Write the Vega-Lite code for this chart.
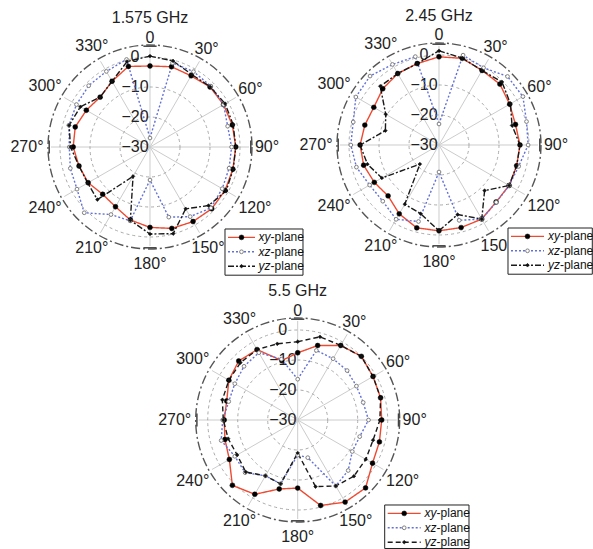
{
"$schema":"https://vega.github.io/schema/vega-lite/v6.json",
"background":"white","padding":0,"autosize":{"type":"none"},
"width":593,"height":549,
"config":{"view":{"stroke":null},"font":"Liberation Sans","text":{"font":"Liberation Sans"}},
"datasets":{
"spokes":[{"a":0},{"a":30},{"a":60},{"a":90},{"a":120},{"a":150},{"a":180},{"a":210},{"a":240},{"a":270},{"a":300},{"a":330}],
"rings":[{"db":-20},{"db":-10},{"db":0}],
"outer":[{"db":4}],
"cards":[{"a":0},{"a":90},{"a":180},{"a":270}],
"rlab":[{"db":0,"t":"0"},{"db":-10,"t":"−10"},{"db":-20,"t":"−20"},{"db":-30,"t":"−30"}],
"alab":[{"a":0,"t":"0"},{"a":30,"t":"30°"},{"a":60,"t":"60°"},{"a":90,"t":"90°"},{"a":120,"t":"120°"},{"a":150,"t":"150°"},{"a":180,"t":"180°"},{"a":210,"t":"210°"},{"a":240,"t":"240°"},{"a":270,"t":"270°"},{"a":300,"t":"300°"},{"a":330,"t":"330°"}],
"titles":[{"f":"1.575","t":"1.575 GHz"},{"f":"2.45","t":"2.45 GHz"},{"f":"5.5","t":"5.5 GHz"}],
"leg":[{"s":"xy","k":0},{"s":"xz","k":1},{"s":"yz","k":2}],
"pat":[
{"f":"1.575","s":"xy","a":0,"db":-3},{"f":"1.575","s":"xy","a":15,"db":-2.3},{"f":"1.575","s":"xy","a":30,"db":-2.6},{"f":"1.575","s":"xy","a":45,"db":-1.7},{"f":"1.575","s":"xy","a":60,"db":-1.7},{"f":"1.575","s":"xy","a":75,"db":-1.6},{"f":"1.575","s":"xy","a":90,"db":-1.4},{"f":"1.575","s":"xy","a":105,"db":-1.4},{"f":"1.575","s":"xy","a":120,"db":-1.1},{"f":"1.575","s":"xy","a":135,"db":-0.9},{"f":"1.575","s":"xy","a":150,"db":-1.3},{"f":"1.575","s":"xy","a":165,"db":-1.9},{"f":"1.575","s":"xy","a":180,"db":-3.2},{"f":"1.575","s":"xy","a":195,"db":-4.8},{"f":"1.575","s":"xy","a":210,"db":-7},{"f":"1.575","s":"xy","a":225,"db":-7.7},{"f":"1.575","s":"xy","a":240,"db":-6.2},{"f":"1.575","s":"xy","a":255,"db":-5.5},{"f":"1.575","s":"xy","a":270,"db":-4.4},{"f":"1.575","s":"xy","a":285,"db":-4.2},{"f":"1.575","s":"xy","a":300,"db":-5.5},{"f":"1.575","s":"xy","a":315,"db":-6.5},{"f":"1.575","s":"xy","a":330,"db":-4.7},{"f":"1.575","s":"xy","a":345,"db":-2.2},
{"f":"1.575","s":"xz","a":0,"db":-27},{"f":"1.575","s":"xz","a":15,"db":-1},{"f":"1.575","s":"xz","a":30,"db":-1},{"f":"1.575","s":"xz","a":45,"db":-1.3},{"f":"1.575","s":"xz","a":60,"db":-1.7},{"f":"1.575","s":"xz","a":75,"db":-3.2},{"f":"1.575","s":"xz","a":90,"db":-2.8},{"f":"1.575","s":"xz","a":105,"db":-2.7},{"f":"1.575","s":"xz","a":120,"db":-2.2},{"f":"1.575","s":"xz","a":135,"db":-1.3},{"f":"1.575","s":"xz","a":150,"db":-3.2},{"f":"1.575","s":"xz","a":165,"db":-5.8},{"f":"1.575","s":"xz","a":180,"db":-19},{"f":"1.575","s":"xz","a":195,"db":-4.5},{"f":"1.575","s":"xz","a":210,"db":-4},{"f":"1.575","s":"xz","a":225,"db":1},{"f":"1.575","s":"xz","a":240,"db":-1.9},{"f":"1.575","s":"xz","a":255,"db":-2.5},{"f":"1.575","s":"xz","a":270,"db":-3.1},{"f":"1.575","s":"xz","a":285,"db":-2},{"f":"1.575","s":"xz","a":300,"db":-1.7},{"f":"1.575","s":"xz","a":315,"db":-1.1},{"f":"1.575","s":"xz","a":330,"db":-0.9},{"f":"1.575","s":"xz","a":345,"db":0.2},
{"f":"1.575","s":"yz","a":0,"db":0.3},{"f":"1.575","s":"yz","a":15,"db":-0.3},{"f":"1.575","s":"yz","a":30,"db":-2.1},{"f":"1.575","s":"yz","a":45,"db":-1.6},{"f":"1.575","s":"yz","a":60,"db":-1.1},{"f":"1.575","s":"yz","a":75,"db":-1.3},{"f":"1.575","s":"yz","a":90,"db":-1.4},{"f":"1.575","s":"yz","a":105,"db":-1.3},{"f":"1.575","s":"yz","a":120,"db":-0.7},{"f":"1.575","s":"yz","a":135,"db":-2.4},{"f":"1.575","s":"yz","a":150,"db":-6.2},{"f":"1.575","s":"yz","a":165,"db":-0.1},{"f":"1.575","s":"yz","a":180,"db":-1},{"f":"1.575","s":"yz","a":195,"db":-4.7},{"f":"1.575","s":"yz","a":210,"db":-18.7},{"f":"1.575","s":"yz","a":225,"db":-5.2},{"f":"1.575","s":"yz","a":240,"db":-6},{"f":"1.575","s":"yz","a":255,"db":-5.5},{"f":"1.575","s":"yz","a":270,"db":-3.5},{"f":"1.575","s":"yz","a":285,"db":-2.1},{"f":"1.575","s":"yz","a":300,"db":-3.2},{"f":"1.575","s":"yz","a":315,"db":-6.5},{"f":"1.575","s":"yz","a":330,"db":-4.7},{"f":"1.575","s":"yz","a":345,"db":-0.5},
{"f":"2.45","s":"xy","a":0,"db":-0.6},{"f":"2.45","s":"xy","a":15,"db":-0.1},{"f":"2.45","s":"xy","a":30,"db":-1.3},{"f":"2.45","s":"xy","a":45,"db":-1.3},{"f":"2.45","s":"xy","a":60,"db":-2.8},{"f":"2.45","s":"xy","a":75,"db":-3.6},{"f":"2.45","s":"xy","a":90,"db":-3},{"f":"2.45","s":"xy","a":105,"db":-3.2},{"f":"2.45","s":"xy","a":120,"db":-3},{"f":"2.45","s":"xy","a":135,"db":-3.1},{"f":"2.45","s":"xy","a":150,"db":-1.5},{"f":"2.45","s":"xy","a":165,"db":-1.5},{"f":"2.45","s":"xy","a":180,"db":-1.4},{"f":"2.45","s":"xy","a":195,"db":-1.4},{"f":"2.45","s":"xy","a":210,"db":-3.5},{"f":"2.45","s":"xy","a":225,"db":-6},{"f":"2.45","s":"xy","a":240,"db":-5.1},{"f":"2.45","s":"xy","a":255,"db":-4},{"f":"2.45","s":"xy","a":270,"db":-3.7},{"f":"2.45","s":"xy","a":285,"db":-4.4},{"f":"2.45","s":"xy","a":300,"db":-4.9},{"f":"2.45","s":"xy","a":315,"db":-3.5},{"f":"2.45","s":"xy","a":330,"db":-2.5},{"f":"2.45","s":"xy","a":345,"db":-1.9},
{"f":"2.45","s":"xz","a":0,"db":-23},{"f":"2.45","s":"xz","a":15,"db":1},{"f":"2.45","s":"xz","a":30,"db":-0.3},{"f":"2.45","s":"xz","a":45,"db":2.3},{"f":"2.45","s":"xz","a":60,"db":2.3},{"f":"2.45","s":"xz","a":75,"db":0.2},{"f":"2.45","s":"xz","a":90,"db":-0.3},{"f":"2.45","s":"xz","a":105,"db":-2.5},{"f":"2.45","s":"xz","a":120,"db":-3},{"f":"2.45","s":"xz","a":135,"db":-3},{"f":"2.45","s":"xz","a":150,"db":-1.5},{"f":"2.45","s":"xz","a":165,"db":-4},{"f":"2.45","s":"xz","a":180,"db":-21},{"f":"2.45","s":"xz","a":195,"db":-3.6},{"f":"2.45","s":"xz","a":210,"db":-1.4},{"f":"2.45","s":"xz","a":225,"db":-3.5},{"f":"2.45","s":"xz","a":240,"db":-3.3},{"f":"2.45","s":"xz","a":255,"db":-1.5},{"f":"2.45","s":"xz","a":270,"db":-0.6},{"f":"2.45","s":"xz","a":285,"db":-0.4},{"f":"2.45","s":"xz","a":300,"db":2},{"f":"2.45","s":"xz","a":315,"db":2.5},{"f":"2.45","s":"xz","a":330,"db":1},{"f":"2.45","s":"xz","a":345,"db":0.5},
{"f":"2.45","s":"yz","a":0,"db":1.4},{"f":"2.45","s":"yz","a":15,"db":0},{"f":"2.45","s":"yz","a":30,"db":-1.3},{"f":"2.45","s":"yz","a":45,"db":-0.3},{"f":"2.45","s":"yz","a":60,"db":-2.5},{"f":"2.45","s":"yz","a":75,"db":-4.8},{"f":"2.45","s":"yz","a":90,"db":-3},{"f":"2.45","s":"yz","a":105,"db":-3.2},{"f":"2.45","s":"yz","a":120,"db":-3},{"f":"2.45","s":"yz","a":135,"db":-8.5},{"f":"2.45","s":"yz","a":150,"db":-1.5},{"f":"2.45","s":"yz","a":165,"db":-6},{"f":"2.45","s":"yz","a":180,"db":-1.4},{"f":"2.45","s":"yz","a":195,"db":-6.3},{"f":"2.45","s":"yz","a":210,"db":-7.2},{"f":"2.45","s":"yz","a":225,"db":-21},{"f":"2.45","s":"yz","a":240,"db":-8},{"f":"2.45","s":"yz","a":255,"db":-5.3},{"f":"2.45","s":"yz","a":270,"db":-3.7},{"f":"2.45","s":"yz","a":285,"db":-11.5},{"f":"2.45","s":"yz","a":300,"db":-9.5},{"f":"2.45","s":"yz","a":315,"db":-2.3},{"f":"2.45","s":"yz","a":330,"db":-2.5},{"f":"2.45","s":"yz","a":345,"db":-1.9},
{"f":"5.5","s":"xy","a":0,"db":-7.6},{"f":"5.5","s":"xy","a":15,"db":-4.3},{"f":"5.5","s":"xy","a":30,"db":-1.3},{"f":"5.5","s":"xy","a":45,"db":0},{"f":"5.5","s":"xy","a":60,"db":-1},{"f":"5.5","s":"xy","a":75,"db":-1.4},{"f":"5.5","s":"xy","a":90,"db":-2},{"f":"5.5","s":"xy","a":105,"db":-1.8},{"f":"5.5","s":"xy","a":120,"db":-1.2},{"f":"5.5","s":"xy","a":135,"db":2},{"f":"5.5","s":"xy","a":150,"db":1.6},{"f":"5.5","s":"xy","a":165,"db":-0.5},{"f":"5.5","s":"xy","a":180,"db":-7.3},{"f":"5.5","s":"xy","a":195,"db":-6.2},{"f":"5.5","s":"xy","a":210,"db":-1.4},{"f":"5.5","s":"xy","a":225,"db":0.8},{"f":"5.5","s":"xy","a":240,"db":-3.7},{"f":"5.5","s":"xy","a":255,"db":-4.9},{"f":"5.5","s":"xy","a":270,"db":-5.5},{"f":"5.5","s":"xy","a":285,"db":-5.5},{"f":"5.5","s":"xy","a":300,"db":-3.5},{"f":"5.5","s":"xy","a":315,"db":-2.2},{"f":"5.5","s":"xy","a":330,"db":-2.9},{"f":"5.5","s":"xy","a":345,"db":-9.5},
{"f":"5.5","s":"xz","a":0,"db":-16.4},{"f":"5.5","s":"xz","a":15,"db":-6},{"f":"5.5","s":"xz","a":30,"db":-6.4},{"f":"5.5","s":"xz","a":45,"db":-6.7},{"f":"5.5","s":"xz","a":60,"db":-7.4},{"f":"5.5","s":"xz","a":75,"db":-7.4},{"f":"5.5","s":"xz","a":90,"db":-6.4},{"f":"5.5","s":"xz","a":105,"db":-8.6},{"f":"5.5","s":"xz","a":120,"db":-9},{"f":"5.5","s":"xz","a":135,"db":-6.2},{"f":"5.5","s":"xz","a":150,"db":-4.6},{"f":"5.5","s":"xz","a":165,"db":-17},{"f":"5.5","s":"xz","a":180,"db":-18.3},{"f":"5.5","s":"xz","a":195,"db":-8},{"f":"5.5","s":"xz","a":210,"db":-8.5},{"f":"5.5","s":"xz","a":225,"db":-5.2},{"f":"5.5","s":"xz","a":240,"db":-5.8},{"f":"5.5","s":"xz","a":255,"db":-3.6},{"f":"5.5","s":"xz","a":270,"db":-5},{"f":"5.5","s":"xz","a":285,"db":-6.2},{"f":"5.5","s":"xz","a":300,"db":-5.8},{"f":"5.5","s":"xz","a":315,"db":-4.7},{"f":"5.5","s":"xz","a":330,"db":-4.1},{"f":"5.5","s":"xz","a":345,"db":-9},
{"f":"5.5","s":"yz","a":0,"db":-3.9},{"f":"5.5","s":"yz","a":15,"db":-1.3},{"f":"5.5","s":"yz","a":30,"db":-1.3},{"f":"5.5","s":"yz","a":45,"db":0},{"f":"5.5","s":"yz","a":60,"db":-1},{"f":"5.5","s":"yz","a":75,"db":-1.4},{"f":"5.5","s":"yz","a":90,"db":-2.6},{"f":"5.5","s":"yz","a":105,"db":-4},{"f":"5.5","s":"yz","a":120,"db":-3.8},{"f":"5.5","s":"yz","a":135,"db":-3.5},{"f":"5.5","s":"yz","a":150,"db":-4.6},{"f":"5.5","s":"yz","a":165,"db":-7},{"f":"5.5","s":"yz","a":180,"db":-19},{"f":"5.5","s":"yz","a":195,"db":-8},{"f":"5.5","s":"yz","a":210,"db":-8.5},{"f":"5.5","s":"yz","a":225,"db":-5.5},{"f":"5.5","s":"yz","a":240,"db":-6.7},{"f":"5.5","s":"yz","a":255,"db":-6},{"f":"5.5","s":"yz","a":270,"db":-5.2},{"f":"5.5","s":"yz","a":285,"db":-4},{"f":"5.5","s":"yz","a":300,"db":-3.5},{"f":"5.5","s":"yz","a":315,"db":-3},{"f":"5.5","s":"yz","a":330,"db":-2.9},{"f":"5.5","s":"yz","a":345,"db":-3.7}
]},
"encoding":{
"x":{"field":"px","type":"quantitative","scale":{"domain":[0,197.667],"nice":false,"zero":false},"axis":null},
"y":{"field":"py","type":"quantitative","scale":{"domain":[0,183],"nice":false,"zero":false},"axis":null}
},
"layer":[
{"data":{"name":"spokes"},"transform":[{"calculate":"['1.575','2.45','5.5']","as":"f"},{"flatten":["f"]},{"calculate":"datum.f=='1.575'?50:(datum.f=='2.45'?146.333:99.233)","as":"cx"},{"calculate":"datum.f=='1.575'?134:(datum.f=='2.45'?134.667:43)","as":"cy"},
{"calculate":"datum.cx","as":"px"},{"calculate":"datum.cy","as":"py"},{"calculate":"datum.cx+33*sin(datum.a*PI/180)","as":"px2"},{"calculate":"datum.cy+33*cos(datum.a*PI/180)","as":"py2"}],
"mark":{"type":"rule","stroke":"#cccccc","strokeWidth":1},"encoding":{"x2":{"field":"px2"},"y2":{"field":"py2"}}},
{"data":{"name":"rings"},"transform":[{"calculate":"['1.575','2.45','5.5']","as":"f"},{"flatten":["f"]},{"calculate":"datum.f=='1.575'?50:(datum.f=='2.45'?146.333:99.233)","as":"px"},{"calculate":"datum.f=='1.575'?134:(datum.f=='2.45'?134.667:43)","as":"py"},{"calculate":"datum.db+30","as":"rr"}],
"mark":{"type":"point","shape":"circle","filled":false,"opacity":1,"fill":null,"stroke":"#aaaaaa","strokeWidth":1,"strokeDash":[3,3]},
"encoding":{"size":{"field":"rr","type":"quantitative","scale":{"type":"pow","exponent":2,"domain":[0,34],"range":[0,41616],"zero":true},"legend":null}}},
{"data":{"name":"outer"},"transform":[{"calculate":"['1.575','2.45','5.5']","as":"f"},{"flatten":["f"]},{"calculate":"datum.f=='1.575'?50:(datum.f=='2.45'?146.333:99.233)","as":"px"},{"calculate":"datum.f=='1.575'?134:(datum.f=='2.45'?134.667:43)","as":"py"},{"calculate":"datum.db+30","as":"rr"}],
"mark":{"type":"point","shape":"circle","filled":false,"opacity":1,"fill":null,"stroke":"#555555","strokeWidth":1.4,"strokeDash":[9,3,2,3]},
"encoding":{"size":{"field":"rr","type":"quantitative","scale":{"type":"pow","exponent":2,"domain":[0,34],"range":[0,41616],"zero":true},"legend":null}}},
{"data":{"name":"cards"},"transform":[{"calculate":"['1.575','2.45','5.5']","as":"f"},{"flatten":["f"]},{"calculate":"datum.f=='1.575'?50:(datum.f=='2.45'?146.333:99.233)","as":"cx"},{"calculate":"datum.f=='1.575'?134:(datum.f=='2.45'?134.667:43)","as":"cy"},
{"calculate":"datum.cx+33.6*sin(datum.a*PI/180)+2.2*cos(datum.a*PI/180)","as":"px"},{"calculate":"datum.cy+33.6*cos(datum.a*PI/180)-2.2*sin(datum.a*PI/180)","as":"py"},{"calculate":"datum.cx+33.6*sin(datum.a*PI/180)-2.2*cos(datum.a*PI/180)","as":"px2"},{"calculate":"datum.cy+33.6*cos(datum.a*PI/180)+2.2*sin(datum.a*PI/180)","as":"py2"}],
"mark":{"type":"rule","stroke":"#444444","strokeWidth":1.5},"encoding":{"x2":{"field":"px2"},"y2":{"field":"py2"}}},
{"data":{"name":"rlab"},"transform":[{"calculate":"['1.575','2.45','5.5']","as":"f"},{"flatten":["f"]},{"calculate":"datum.f=='1.575'?50:(datum.f=='2.45'?146.333:99.233)","as":"cx"},{"calculate":"datum.f=='1.575'?134:(datum.f=='2.45'?134.667:43)","as":"cy"},{"calculate":"datum.cx-5","as":"px"},{"calculate":"datum.cy+datum.db+30","as":"py"}],
"mark":{"type":"text","fontSize":16,"fill":"#222222"},"encoding":{"text":{"field":"t"}}},
{"data":{"name":"alab"},"transform":[{"calculate":"['1.575','2.45','5.5']","as":"f"},{"flatten":["f"]},{"calculate":"datum.f=='1.575'?50:(datum.f=='2.45'?146.333:99.233)","as":"cx"},{"calculate":"datum.f=='1.575'?134:(datum.f=='2.45'?134.667:43)","as":"cy"},
{"calculate":"36.5+(length(datum.t)>3?4.5:2.5)*abs(sin(datum.a*PI/180))+(datum.a==180?2.5:0)","as":"rl"},{"calculate":"datum.cx+datum.rl*sin(datum.a*PI/180)","as":"px"},{"calculate":"datum.cy+datum.rl*cos(datum.a*PI/180)","as":"py"}],
"mark":{"type":"text","fontSize":16,"fill":"#222222"},"encoding":{"text":{"field":"t"}}},
{"data":{"name":"titles"},"transform":[{"calculate":"datum.f=='1.575'?50:(datum.f=='2.45'?146.333:99.233)","as":"px"},{"calculate":"(datum.f=='1.575'?134:(datum.f=='2.45'?134.667:43))+43","as":"py"}],
"mark":{"type":"text","fontSize":16,"fill":"#222222"},"encoding":{"text":{"field":"t"}}},
{"data":{"name":"pat"},"transform":[{"calculate":"datum.f=='1.575'?50:(datum.f=='2.45'?146.333:99.233)","as":"cx"},{"calculate":"datum.f=='1.575'?134:(datum.f=='2.45'?134.667:43)","as":"cy"},{"calculate":"datum.cx+(datum.db+30)*sin(datum.a*PI/180)","as":"px"},{"calculate":"datum.cy+(datum.db+30)*cos(datum.a*PI/180)","as":"py"},{"calculate":"datum.f=='5.5'?datum.s+'3':datum.s","as":"sk"}],
"mark":{"type":"line","interpolate":"linear-closed"},
"encoding":{"detail":{"field":"f"},"color":{"field":"s","type":"nominal","scale":{"domain":["xy","xz","yz"],"range":["#ee4a32","#6270d8","#1a1a1a"]},"legend":null},
"strokeDash":{"field":"sk","type":"nominal","scale":{"domain":["xy","xz","yz","xy3","xz3","yz3"],"range":[[1,0],[2,2],[6,2,2,2],[1,0],[2,2],[5,3]]},"legend":null},
"strokeWidth":{"field":"sk","type":"nominal","scale":{"domain":["xy","xz","yz","xy3","xz3","yz3"],"range":[1.4,1.4,1.4,1.8,1.8,1.8]},"legend":null},
"order":{"field":"a","type":"quantitative"}}},
{"data":{"name":"pat"},"transform":[{"filter":"datum.s=='xy'"},{"calculate":"datum.f=='1.575'?50:(datum.f=='2.45'?146.333:99.233)","as":"cx"},{"calculate":"datum.f=='1.575'?134:(datum.f=='2.45'?134.667:43)","as":"cy"},{"calculate":"datum.cx+(datum.db+30)*sin(datum.a*PI/180)","as":"px"},{"calculate":"datum.cy+(datum.db+30)*cos(datum.a*PI/180)","as":"py"}],
"mark":{"type":"point","shape":"circle","filled":true,"opacity":1,"fill":"#000000","stroke":"#000000","strokeWidth":0.5,"size":24}},
{"data":{"name":"pat"},"transform":[{"filter":"datum.s=='xz'"},{"calculate":"datum.f=='1.575'?50:(datum.f=='2.45'?146.333:99.233)","as":"cx"},{"calculate":"datum.f=='1.575'?134:(datum.f=='2.45'?134.667:43)","as":"cy"},{"calculate":"datum.cx+(datum.db+30)*sin(datum.a*PI/180)","as":"px"},{"calculate":"datum.cy+(datum.db+30)*cos(datum.a*PI/180)","as":"py"}],
"mark":{"type":"point","shape":"circle","filled":false,"opacity":1,"fill":"#ffffff","stroke":"#808080","strokeWidth":1,"size":14}},
{"data":{"name":"pat"},"transform":[{"filter":"datum.s=='yz'"},{"calculate":"datum.f=='1.575'?50:(datum.f=='2.45'?146.333:99.233)","as":"cx"},{"calculate":"datum.f=='1.575'?134:(datum.f=='2.45'?134.667:43)","as":"cy"},{"calculate":"datum.cx+(datum.db+30)*sin(datum.a*PI/180)","as":"px"},{"calculate":"datum.cy+(datum.db+30)*cos(datum.a*PI/180)","as":"py"}],
"mark":{"type":"point","shape":"diamond","filled":true,"opacity":1,"fill":"#111111","stroke":"#111111","strokeWidth":0.5,"size":14}},
{"data":{"name":"leg"},"transform":[{"filter":"datum.k==0"},{"calculate":"['1.575','2.45','5.5']","as":"f"},{"flatten":["f"]},{"calculate":"datum.f=='1.575'?50:(datum.f=='2.45'?146.333:99.233)","as":"cx"},{"calculate":"datum.f=='1.575'?134:(datum.f=='2.45'?134.667:43)","as":"cy"},{"calculate":"datum.f=='1.575'?25:(datum.f=='2.45'?23:29)","as":"lx"},{"calculate":"datum.f=='1.575'?-27.33:(datum.f=='2.45'?-27.67:-28.33)","as":"ly"},
{"calculate":"datum.cx+datum.lx","as":"px"},{"calculate":"datum.cx+datum.lx+(datum.f=='1.575'?26:28.1)","as":"px2"},{"calculate":"datum.cy+datum.ly","as":"py"},{"calculate":"datum.cy+datum.ly-(datum.f=='5.5'?14.5:15.4)","as":"py2"}],
"mark":{"type":"rect","fill":"white","stroke":"#222222","strokeWidth":1},"encoding":{"x2":{"field":"px2"},"y2":{"field":"py2"}}},
{"data":{"name":"leg"},"transform":[{"calculate":"['1.575','2.45','5.5']","as":"f"},{"flatten":["f"]},{"calculate":"datum.f=='1.575'?50:(datum.f=='2.45'?146.333:99.233)","as":"cx"},{"calculate":"datum.f=='1.575'?134:(datum.f=='2.45'?134.667:43)","as":"cy"},{"calculate":"datum.f=='1.575'?25:(datum.f=='2.45'?23:29)","as":"lx"},{"calculate":"datum.f=='1.575'?-27.33:(datum.f=='2.45'?-27.67:-28.33)","as":"ly"},
{"calculate":"datum.cy+datum.ly-2.8-4.8*datum.k","as":"py"},{"calculate":"datum.cx+datum.lx+1","as":"px"},{"calculate":"datum.cx+datum.lx+(datum.f=='1.575'?10:12)","as":"px2"},{"calculate":"datum.f=='5.5'?datum.s+'3':datum.s","as":"sk"}],
"mark":{"type":"rule"},"encoding":{"x2":{"field":"px2"},"color":{"field":"s","type":"nominal","legend":null},"strokeDash":{"field":"sk","type":"nominal","legend":null},"strokeWidth":{"field":"sk","type":"nominal","legend":null}}},
{"data":{"name":"leg"},"transform":[{"calculate":"['1.575','2.45','5.5']","as":"f"},{"flatten":["f"]},{"calculate":"datum.f=='1.575'?50:(datum.f=='2.45'?146.333:99.233)","as":"cx"},{"calculate":"datum.f=='1.575'?134:(datum.f=='2.45'?134.667:43)","as":"cy"},{"calculate":"datum.f=='1.575'?25:(datum.f=='2.45'?23:29)","as":"lx"},{"calculate":"datum.f=='1.575'?-27.33:(datum.f=='2.45'?-27.67:-28.33)","as":"ly"},
{"calculate":"datum.cy+datum.ly-2.8-4.8*datum.k","as":"py"},{"calculate":"datum.cx+datum.lx+(datum.f=='1.575'?5.5:6.5)","as":"px"},{"filter":"datum.s=='xy'"}],
"mark":{"type":"point","shape":"circle","filled":true,"opacity":1,"fill":"#000000","stroke":"#000000","strokeWidth":0.5,"size":24}},
{"data":{"name":"leg"},"transform":[{"calculate":"['1.575','2.45','5.5']","as":"f"},{"flatten":["f"]},{"calculate":"datum.f=='1.575'?50:(datum.f=='2.45'?146.333:99.233)","as":"cx"},{"calculate":"datum.f=='1.575'?134:(datum.f=='2.45'?134.667:43)","as":"cy"},{"calculate":"datum.f=='1.575'?25:(datum.f=='2.45'?23:29)","as":"lx"},{"calculate":"datum.f=='1.575'?-27.33:(datum.f=='2.45'?-27.67:-28.33)","as":"ly"},
{"calculate":"datum.cy+datum.ly-2.8-4.8*datum.k","as":"py"},{"calculate":"datum.cx+datum.lx+(datum.f=='1.575'?5.5:6.5)","as":"px"},{"filter":"datum.s=='xz'"}],
"mark":{"type":"point","shape":"circle","filled":false,"opacity":1,"fill":"#ffffff","stroke":"#808080","strokeWidth":1,"size":14}},
{"data":{"name":"leg"},"transform":[{"calculate":"['1.575','2.45','5.5']","as":"f"},{"flatten":["f"]},{"calculate":"datum.f=='1.575'?50:(datum.f=='2.45'?146.333:99.233)","as":"cx"},{"calculate":"datum.f=='1.575'?134:(datum.f=='2.45'?134.667:43)","as":"cy"},{"calculate":"datum.f=='1.575'?25:(datum.f=='2.45'?23:29)","as":"lx"},{"calculate":"datum.f=='1.575'?-27.33:(datum.f=='2.45'?-27.67:-28.33)","as":"ly"},
{"calculate":"datum.cy+datum.ly-2.8-4.8*datum.k","as":"py"},{"calculate":"datum.cx+datum.lx+(datum.f=='1.575'?5.5:6.5)","as":"px"},{"filter":"datum.s=='yz'"}],
"mark":{"type":"point","shape":"diamond","filled":true,"opacity":1,"fill":"#111111","stroke":"#111111","strokeWidth":0.5,"size":14}},
{"data":{"name":"leg"},"transform":[{"calculate":"['1.575','2.45','5.5']","as":"f"},{"flatten":["f"]},{"calculate":"datum.f=='1.575'?50:(datum.f=='2.45'?146.333:99.233)","as":"cx"},{"calculate":"datum.f=='1.575'?134:(datum.f=='2.45'?134.667:43)","as":"cy"},{"calculate":"datum.f=='1.575'?25:(datum.f=='2.45'?23:29)","as":"lx"},{"calculate":"datum.f=='1.575'?-27.33:(datum.f=='2.45'?-27.67:-28.33)","as":"ly"},
{"calculate":"datum.cy+datum.ly-2.8-4.8*datum.k","as":"py"},{"calculate":"datum.cx+datum.lx+(datum.f=='1.575'?15.2:17.3)","as":"px"}],
"mark":{"type":"text","align":"right","fontStyle":"italic","fontSize":12,"fill":"#111111"},"encoding":{"text":{"field":"s"}}},
{"data":{"name":"leg"},"transform":[{"calculate":"['1.575','2.45','5.5']","as":"f"},{"flatten":["f"]},{"calculate":"datum.f=='1.575'?50:(datum.f=='2.45'?146.333:99.233)","as":"cx"},{"calculate":"datum.f=='1.575'?134:(datum.f=='2.45'?134.667:43)","as":"cy"},{"calculate":"datum.f=='1.575'?25:(datum.f=='2.45'?23:29)","as":"lx"},{"calculate":"datum.f=='1.575'?-27.33:(datum.f=='2.45'?-27.67:-28.33)","as":"ly"},
{"calculate":"datum.cy+datum.ly-2.8-4.8*datum.k","as":"py"},{"calculate":"datum.cx+datum.lx+(datum.f=='1.575'?15.2:17.3)","as":"px"}],
"mark":{"type":"text","align":"left","fontSize":12,"fill":"#111111"},"encoding":{"text":{"value":"-plane"}}}
]
}
